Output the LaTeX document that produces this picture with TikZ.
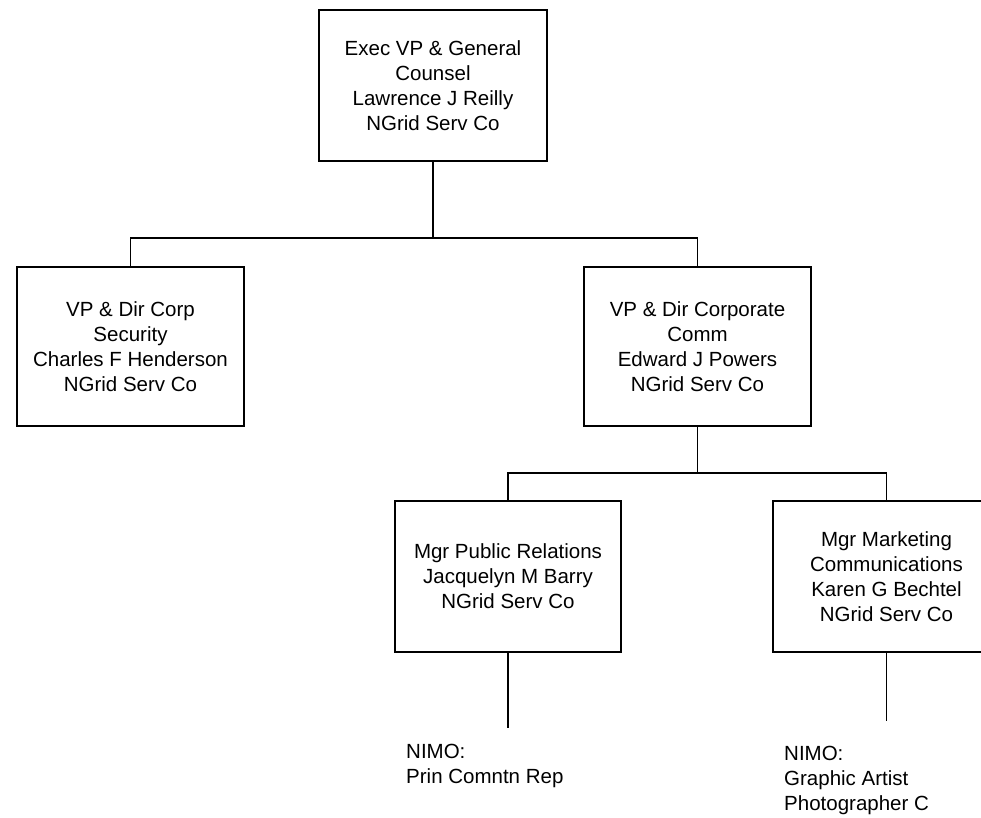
\documentclass[tikz,border=0pt]{standalone}
\usepackage{fontspec}
\setmainfont{Liberation Sans}
\begin{document}
\begin{tikzpicture}[x=1pt,y=-1pt,
  box/.style={draw, line width=1.8pt, minimum width=227pt, minimum height=151pt,
    align=center, inner sep=0pt, font=\fontsize{20.5}{25}\selectfont},
  conn/.style={line width=1.8pt},
  note/.style={anchor=north west, align=left, inner sep=0pt,
    font=\fontsize{20.5}{25}\selectfont}]
\path[use as bounding box] (0,0) rectangle (981,817);
\clip (0,0) rectangle (981,817);

\node[box, minimum width=228pt] (top) at (433,85.5)
  {Exec VP \& General\\Counsel\\Lawrence J Reilly\\NGrid Serv Co};
\node[box, minimum height=159pt] (left) at (130.5,346.5)
  {VP \& Dir Corp\\Security\\Charles F Henderson\\NGrid Serv Co};
\node[box, minimum height=159pt] (right) at (697.5,346.5)
  {VP \& Dir Corporate\\Comm\\Edward J Powers\\NGrid Serv Co};
\node[box, minimum width=226pt] (pr) at (508,576.5)
  {Mgr Public Relations\\Jacquelyn M Barry\\NGrid Serv Co};
\node[box] (mc) at (886.5,576.5)
  {Mgr Marketing\\Communications\\Karen G Bechtel\\NGrid Serv Co};

\coordinate (j1) at (433,238);
\coordinate (j2) at (697.5,473);
\coordinate (e1) at (508,728);
\coordinate (e2) at (886.5,721);

\draw[conn] (top.south) -- (j1);
\draw[conn] (j1) -| (left.north);
\draw[conn] (j1) -| (right.north);
\draw[conn] (right.south) -- (j2);
\draw[conn] (j2) -| (pr.north);
\draw[conn] (j2) -| (mc.north);
\draw[conn] (pr.south) -- (e1);
\draw[conn] (mc.south) -- (e2);

\node[note] (n1) at (406,744) {NIMO:\\Prin Comntn Rep};
\node[note] (n2) at (784,746) {NIMO:\\Graphic Artist\\Photographer C};
\end{tikzpicture}
\end{document}
